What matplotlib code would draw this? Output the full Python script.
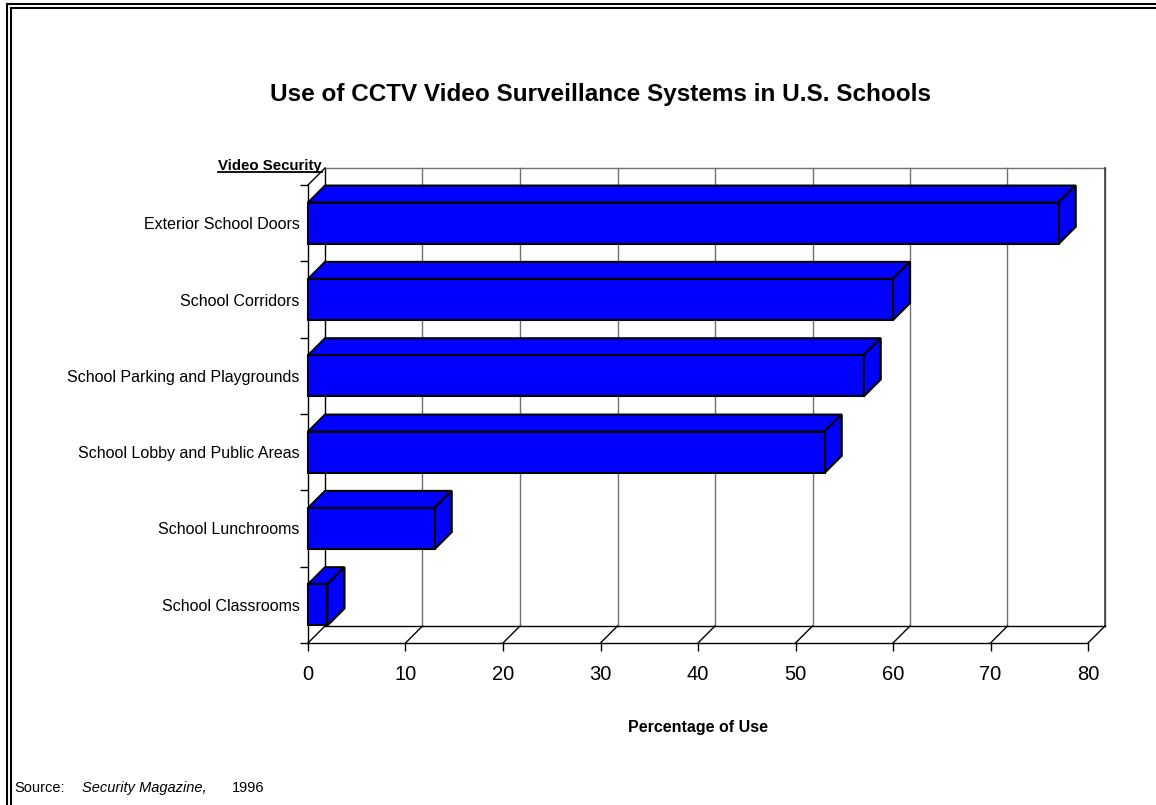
import matplotlib
matplotlib.use("Agg")
import matplotlib.pyplot as plt
from matplotlib.patches import Polygon
from matplotlib.lines import Line2D

plt.rcParams['font.family'] = ['Liberation Sans', 'DejaVu Sans']

# ---- data ----
categories = ["Exterior School Doors", "School Corridors", "School Parking and Playgrounds",
              "School Lobby and Public Areas", "School Lunchrooms", "School Classrooms"]
values = [77, 60, 57, 53, 13, 2]
xticks = [0, 10, 20, 30, 40, 50, 60, 70, 80]
title = "Use of CCTV Video Surveillance Systems in U.S. Schools"
ylabel_text = "Video Security"
xlabel_text = "Percentage of Use"

W, H = 1156, 805
fig = plt.figure(figsize=(W / 100, H / 100), dpi=100)

# front plane of the 3-D box in pixels
x0p, x1p = 308, 1088
ytp, ybp = 185, 643
ax = fig.add_axes([x0p / W, (H - ybp) / H, (x1p - x0p) / W, (ybp - ytp) / H])
n = len(categories)
ax.set_xlim(0, 80)
ax.set_ylim(n - 0.5, -0.5)
ax.patch.set_visible(False)

# depth offset (pixels) converted into data units
depth_px = 17
px_per_x = (x1p - x0p) / 80.0
px_per_y = (ybp - ytp) / n
DX = depth_px / px_per_x
DY = depth_px / px_per_y  # moving "back" = upward = smaller y value

grid_col = '#707070'
# back wall gridlines
for t in xticks:
    ax.plot([t + DX, t + DX], [-0.5 - DY, n - 0.5 - DY], color=grid_col if t != 0 else 'black',
            lw=1.0, clip_on=False, zorder=1)
# back wall top & right edges
ax.plot([DX, 80 + DX], [-0.5 - DY, -0.5 - DY], color=grid_col, lw=1.0, clip_on=False, zorder=1)
ax.plot([80 + DX, 80 + DX], [-0.5 - DY, n - 0.5 - DY], color='#404040', lw=1.2, clip_on=False, zorder=1)
# floor back line
ax.plot([DX, 80 + DX], [n - 0.5 - DY, n - 0.5 - DY], color='black', lw=1.0, clip_on=False, zorder=1)
# floor diagonals
for t in xticks:
    ax.plot([t, t + DX], [n - 0.5, n - 0.5 - DY], color='black', lw=1.0, clip_on=False, zorder=1)
# left wall top diagonal
ax.plot([0, DX], [-0.5, -0.5 - DY], color='black', lw=1.0, clip_on=False, zorder=1)

# bars
bh = 0.54
ypos = list(range(n))
blue = '#0000FF'
for y, v in zip(ypos, values):
    top = y - bh / 2
    bot = y + bh / 2
    topface = Polygon([(0, top), (v, top), (v + DX, top - DY), (DX, top - DY)], closed=True,
                      facecolor=blue, edgecolor='black', lw=1.5, zorder=3, clip_on=False, joinstyle='miter')
    side = Polygon([(v, top), (v, bot), (v + DX, bot - DY), (v + DX, top - DY)], closed=True,
                   facecolor=blue, edgecolor='black', lw=1.5, zorder=3, clip_on=False, joinstyle='miter')
    ax.add_patch(topface)
    ax.add_patch(side)
ax.barh(ypos, values, height=bh, color=blue, edgecolor='black', linewidth=1.5, zorder=4, clip_on=False)

# spines / ticks
for s in ['top', 'right']:
    ax.spines[s].set_visible(False)
ax.spines['left'].set_color('black')
ax.spines['bottom'].set_color('black')
ax.spines['left'].set_linewidth(1.0)
ax.spines['bottom'].set_linewidth(1.0)
ax.set_xticks(xticks)
ax.set_xticklabels([str(t) for t in xticks], fontsize=14.5)
ax.tick_params(axis='x', direction='out', length=6, width=1, pad=10)
ax.set_yticks([i - 0.5 for i in range(n + 1)])
ax.set_yticklabels([])
ax.tick_params(axis='y', which='major', direction='out', length=6, width=1)
ax.set_yticks(ypos, minor=True)
ax.set_yticklabels(categories, minor=True, fontsize=11.5)
ax.tick_params(axis='y', which='minor', length=0, pad=6)

ax.set_xlabel(xlabel_text, fontsize=11.5, fontweight='bold', labelpad=26)

# title
fig.text(600 / W, 1 - 95 / H, title, ha='center', va='center', fontsize=17.5, fontweight='bold')

# axis title with underline
yt = fig.text(322 / W, 1 - 170 / H, ylabel_text, ha='right', va='baseline', fontsize=10.8, fontweight='bold')
fig.canvas.draw()
bb = yt.get_window_extent()
fig.add_artist(Line2D([bb.x0 / W, bb.x1 / W], [(1 - 172.5 / H), (1 - 172.5 / H)], color='black', lw=1.3))

# source line
fig.text(14 / W, 1 - 792 / H, "Source:", ha='left', va='baseline', fontsize=10.5)
fig.text(82 / W, 1 - 792 / H, "Security Magazine,", ha='left', va='baseline', fontsize=10.5, style='italic')
fig.text(232 / W, 1 - 792 / H, "1996", ha='left', va='baseline', fontsize=10.5)

# double border (top and left)
lw = 1.5
fig.add_artist(Line2D([7 / W, 1], [1 - 4 / H, 1 - 4 / H], color='black', lw=lw))
fig.add_artist(Line2D([11 / W, 1], [1 - 8 / H, 1 - 8 / H], color='black', lw=lw))
fig.add_artist(Line2D([7 / W, 7 / W], [0, 1 - 4 / H], color='black', lw=lw))
fig.add_artist(Line2D([11 / W, 11 / W], [0, 1 - 8 / H], color='black', lw=lw))

fig.savefig("out.png", dpi=100)
